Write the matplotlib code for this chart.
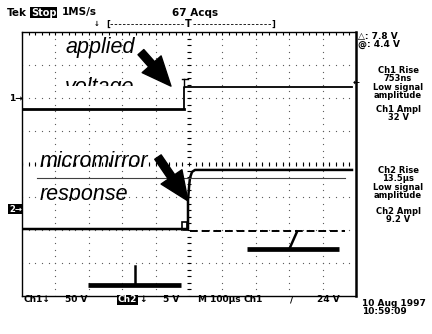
import matplotlib.pyplot as plt
from matplotlib.patches import Rectangle
import numpy as np

plt.rcParams['font.family'] = ['DejaVu Sans']

# screen units: time in microseconds (100 us/div), vertical in divisions
ch1_t = [-497, -15, -15, 488]
ch1_v = [1.67, 1.67, 2.33, 2.33]

ch2_t = [-497, -3, -3, 1, 3, 9, 18, 488]
ch2_v = [-1.97, -1.97, -1.09, -0.6, -0.42, -0.24, -0.18, -0.18]

ref_t = [-455, 467]
ref_v = [-0.42, -0.42]

gnd_t = [3, 467]
gnd_v = [-2.03, -2.03]

# hand drawn bars (left and right) with their stems
bar1_t = [-302, -24]
bar1_v = [-3.67, -3.67]
stem1_t = [-162, -162]
stem1_v = [-3.09, -3.62]
bar2_t = [174, 449]
bar2_v = [-2.59, -2.59]
stem2_t = [302, 323]
stem2_v = [-2.54, -2.06]

right_groups = [("Ch1 Rise\n753ns\nLow signal\namplitude", 83),
                ("Ch1 Ampl\n32 V", 113.5),
                ("Ch2 Rise\n13.5\u00b5s\nLow signal\namplitude", 183),
                ("Ch2 Ampl\n9.2 V", 215.5)]

bottom_labels = [("Ch1\u2193", 24), ("50 V", 65), ("\u2193", 139), ("5 V", 163),
                 ("M 100\u00b5s", 198), ("Ch1", 244), ("/", 290), ("24 V", 317)]

W, H = 432, 334
fig = plt.figure(figsize=(4.32, 3.34), dpi=100)


def fx(x):
    return x / W


def fy(y):
    return 1 - y / H


ax = fig.add_axes([fx(22), fy(296), 334 / W, 264 / H])
ax.set_xlim(-500, 500)
ax.set_ylim(-4, 4)
for s in ax.spines.values():
    s.set_linewidth(1.0)
ax.spines['right'].set_linewidth(1.8)
ax.set_xticks([])
ax.set_yticks([])
ax.set_xticks(np.arange(-500, 501, 20), minor=True)
ax.tick_params(which='minor', top=True, bottom=False, direction='in', length=2.5,
               width=0.8, labelbottom=False)

# graticule
gx = np.arange(-500, 501, 20)
gy = np.arange(-4, 4.01, 0.2)
for v in range(-3, 4):
    ax.plot(gx, np.full(len(gx), v), ls='none', marker='o', ms=0.9, color='0.35', mec='none')
for t in range(-400, 401, 100):
    ax.plot(np.full(len(gy), t), gy, ls='none', marker='o', ms=0.9, color='0.35', mec='none')
ax.plot(gx, np.zeros(len(gx)), ls='none', marker='|', ms=3, mew=0.8, color='k')
ax.plot(np.zeros(len(gy)), gy, ls='none', marker='_', ms=3, mew=0.8, color='k')

# traces
ax.plot(ch1_t[:2], ch1_v[:2], color='k', lw=2.0)
ax.plot(ch1_t[1:], ch1_v[1:], color='k', lw=1.3)
ax.plot(ch2_t, ch2_v, color='k', lw=1.8)
ax.plot(ref_t, ref_v, color='0.25', lw=0.8)
ax.plot(gnd_t, gnd_v, color='k', lw=1.4, dashes=(4, 2))

# trigger markers
ax.plot([-21, -3], [2.58, 2.58], color='k', lw=1.0)
ax.plot([-15, -15], [2.58, 2.33], color='k', lw=1.0)
ax.add_patch(Rectangle((-21, -2.0), 15, 0.24, fill=False, ec='k', lw=1.2))

# bars
ax.plot(bar1_t, bar1_v, color='k', lw=3.4, solid_capstyle='butt')
ax.plot(stem1_t, stem1_v, color='k', lw=1.8)
ax.plot(bar2_t, bar2_v, color='k', lw=3.4, solid_capstyle='butt')
ax.plot(stem2_t, stem2_v, color='k', lw=1.8)

# annotations
big = dict(fontsize=15.5, style='italic', color='k', family='Liberation Sans')
ax.text(-371, 3.36, "applied", **big)
tv = ax.text(-371, 2.16, "voltage", **big)
tv.set_clip_path(Rectangle((-500, 2.36), 1000, 2, transform=ax.transData))
tv.set_clip_on(True)
ax.text(-446, -0.09, "micromirror", **big)
tr = ax.text(-446, -1.09, "response", **big)
tr.set_clip_path(Rectangle((-500, -1.12), 1000, 2, transform=ax.transData))
tr.set_clip_on(True)

arrow = dict(arrowstyle='simple,head_width=1.3,head_length=1.5,tail_width=0.4',
             color='k', mutation_scale=14, shrinkA=0, shrinkB=0)
ax.annotate("", xy=(-54, 2.36), xytext=(-144, 3.39), arrowprops=arrow)
ax.annotate("", xy=(-3, -1.12), xytext=(-93, 0.21), arrowprops=arrow)

# header
hdr = dict(fontsize=7.5, fontweight='bold', va='center')
fig.text(fx(7), fy(12.5), "Tek", **hdr)
fig.text(fx(31), fy(12.5), "Stop", color='w', fontsize=7, fontweight='bold', va='center',
         bbox=dict(facecolor='k', edgecolor='none', pad=0.6))
fig.text(fx(62), fy(12.5), "1MS/s", **hdr)
fig.text(fx(172), fy(12.5), "67 Acqs", **hdr)
fig.text(fx(94), fy(24), "\u2193", fontsize=5, fontweight='bold', va='center')
fig.text(fx(106), fy(24), "[", fontsize=6, fontweight='bold', va='center')
fig.text(fx(188), fy(24), "T", fontsize=7, fontweight='bold', va='center', ha='center')
fig.text(fx(271), fy(24), "]", fontsize=6, fontweight='bold', va='center')
fig.add_artist(plt.Line2D([fx(110), fx(184)], [fy(24), fy(24)], color='k', lw=0.6, dashes=(3, 2)))
fig.add_artist(plt.Line2D([fx(193), fx(271)], [fy(24), fy(24)], color='k', lw=0.6, dashes=(3, 2)))

# right readouts
fig.text(fx(358), fy(36), "\u25b3: 7.8 V", fontsize=6.5, fontweight='bold', va='center')
fig.text(fx(358), fy(44), "@: 4.4 V", fontsize=6.5, fontweight='bold', va='center')
fig.text(fx(353), fy(82), "\u2190", fontsize=6, fontweight='bold', va='center')
for txt, y in right_groups:
    fig.text(fx(398), fy(y), txt, fontsize=6, fontweight='bold', va='center', ha='center',
             linespacing=0.9)

# left markers
fig.text(fx(9), fy(99), "1\u2192", fontsize=6.5, fontweight='bold', va='center')
fig.text(fx(9), fy(209), "2\u2192", fontsize=6, fontweight='bold', va='center', color='w',
         bbox=dict(facecolor='k', edgecolor='none', pad=0.4))

# bottom
for txt, x in bottom_labels:
    fig.text(fx(x), fy(300), txt, fontsize=6.5, fontweight='bold', va='center')
fig.text(fx(118), fy(300), "Ch2", color='w', fontsize=6.5, fontweight='bold', va='center',
         bbox=dict(facecolor='k', edgecolor='none', pad=0.4))
fig.text(fx(362), fy(304), "10 Aug 1997", fontsize=6.5, fontweight='bold', va='center')
fig.text(fx(362), fy(312), "10:59:09", fontsize=6.5, fontweight='bold', va='center')

fig.savefig("out.png", dpi=100)
